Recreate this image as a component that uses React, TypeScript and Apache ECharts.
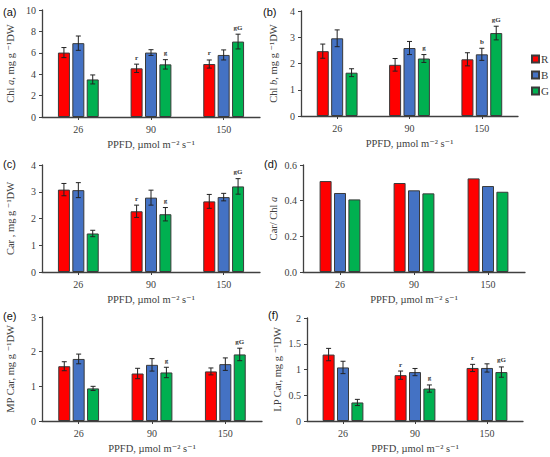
import React, { useEffect, useRef } from "react";
import * as echarts from "echarts";

const categories = ["26", "90", "150"];
const seriesNames = ["R", "B", "G"];
const colors = ["#FF0000", "#4472C4", "#00B050"];

// (a) Chl a
const chlA_R = [6.02, 4.55, 4.95];
const chlA_B = [6.9, 6.02, 5.8];
const chlA_G = [3.51, 4.92, 7.05];
const chlA_Rerr = [0.47, 0.39, 0.38];
const chlA_Berr = [0.67, 0.27, 0.47];
const chlA_Gerr = [0.42, 0.44, 0.69];
const chlA_Rlet = ["", "r", "r"];
const chlA_Blet = ["", "", ""];
const chlA_Glet = ["", "g", "gG"];

// (b) Chl b
const chlB_R = [2.47, 1.95, 2.16];
const chlB_B = [2.96, 2.59, 2.35];
const chlB_G = [1.65, 2.19, 3.16];
const chlB_Rerr = [0.27, 0.24, 0.25];
const chlB_Berr = [0.32, 0.25, 0.23];
const chlB_Gerr = [0.15, 0.15, 0.26];
const chlB_Rlet = ["", "", ""];
const chlB_Blet = ["", "", "b"];
const chlB_Glet = ["", "g", "gG"];

// (c) Car
const car_R = [3.08, 2.27, 2.64];
const car_B = [3.06, 2.78, 2.8];
const car_G = [1.44, 2.16, 3.2];
const car_Rerr = [0.23, 0.23, 0.26];
const car_Berr = [0.28, 0.28, 0.14];
const car_Gerr = [0.12, 0.25, 0.29];
const car_Rlet = ["", "r", ""];
const car_Blet = ["", "", ""];
const car_Glet = ["", "g", "gG"];

// (d) Car / Chl a
const ratio_R = [0.51, 0.499, 0.525];
const ratio_B = [0.443, 0.458, 0.482];
const ratio_G = [0.407, 0.441, 0.45];

// (e) MP Car
const mp_R = [1.58, 1.37, 1.43];
const mp_B = [1.79, 1.62, 1.64];
const mp_G = [0.94, 1.4, 1.92];
const mp_Rerr = [0.13, 0.15, 0.1];
const mp_Berr = [0.14, 0.18, 0.18];
const mp_Gerr = [0.06, 0.15, 0.18];
const mp_Rlet = ["", "", ""];
const mp_Blet = ["", "", ""];
const mp_Glet = ["", "g", "gG"];

// (f) LP Car
const lp_R = [1.29, 0.89, 1.03];
const lp_B = [1.04, 0.95, 1.03];
const lp_G = [0.36, 0.63, 0.95];
const lp_Rerr = [0.12, 0.08, 0.07];
const lp_Berr = [0.12, 0.07, 0.08];
const lp_Gerr = [0.06, 0.07, 0.1];
const lp_Rlet = ["", "r", "r"];
const lp_Blet = ["", "", ""];
const lp_Glet = ["", "g", "gG"];

const SERIF = "'Liberation Serif', 'DejaVu Serif', serif";
const SANS = "'Liberation Sans', Arial, sans-serif";

type Panel = {
  label: string;
  labelPos: [number, number];
  yName: string;
  yNameGap: number;
  max: number;
  interval: number;
  fmt?: (v: number) => string;
  grid: { left: number; top: number; width: number; height: number };
  values: number[][];
  errs?: number[][];
  letters?: string[][];
};

const panels: Panel[] = [
  {
    label: "(a)",
    labelPos: [3, 13],
    yName: "{n|Chl }{i|a}{n|, mg g }{n|⁻¹DW}",
    yNameGap: 26,
    max: 10,
    interval: 2,
    grid: { left: 42, top: 10, width: 218, height: 107 },
    values: [chlA_R, chlA_B, chlA_G],
    errs: [chlA_Rerr, chlA_Berr, chlA_Gerr],
    letters: [chlA_Rlet, chlA_Blet, chlA_Glet],
  },
  {
    label: "(b)",
    labelPos: [263, 13],
    yName: "{n|Chl }{i|b}{n|, mg g }{n|⁻¹DW}",
    yNameGap: 22,
    max: 4,
    interval: 1,
    grid: { left: 301, top: 11, width: 217, height: 105 },
    values: [chlB_R, chlB_B, chlB_G],
    errs: [chlB_Rerr, chlB_Berr, chlB_Gerr],
    letters: [chlB_Rlet, chlB_Blet, chlB_Glet],
  },
  {
    label: "(c)",
    labelPos: [3, 165],
    yName: "{n|Car , mg g }{n|⁻¹DW}",
    yNameGap: 26,
    max: 4,
    interval: 1,
    grid: { left: 42, top: 165, width: 218, height: 107 },
    values: [car_R, car_B, car_G],
    errs: [car_Rerr, car_Berr, car_Gerr],
    letters: [car_Rlet, car_Blet, car_Glet],
  },
  {
    label: "(d)",
    labelPos: [264, 165],
    yName: "{n|Car/ Chl }{i|a}",
    yNameGap: 24,
    max: 0.6,
    interval: 0.2,
    fmt: (v: number) => v.toFixed(1),
    grid: { left: 303, top: 165, width: 222, height: 107 },
    values: [ratio_R, ratio_B, ratio_G],
  },
  {
    label: "(e)",
    labelPos: [3, 317],
    yName: "{n|MP Car, mg g }{n|⁻¹DW}",
    yNameGap: 26,
    max: 3,
    interval: 1,
    grid: { left: 42, top: 317, width: 220, height: 104 },
    values: [mp_R, mp_B, mp_G],
    errs: [mp_Rerr, mp_Berr, mp_Gerr],
    letters: [mp_Rlet, mp_Blet, mp_Glet],
  },
  {
    label: "(f)",
    labelPos: [268, 316],
    yName: "{n|LP Car, mg g }{n|⁻¹DW}",
    yNameGap: 24,
    max: 2,
    interval: 0.5,
    fmt: (v: number) => String(v),
    grid: { left: 307, top: 318, width: 216, height: 103 },
    values: [lp_R, lp_B, lp_G],
    errs: [lp_Rerr, lp_Berr, lp_Gerr],
    letters: [lp_Rlet, lp_Blet, lp_Glet],
  },
];

const BAR_W = 12;
const BAR_GAP = 0.2;

function buildOption() {
  const grids: any[] = [];
  const xAxes: any[] = [];
  const yAxes: any[] = [];
  const series: any[] = [];
  const graphics: any[] = [];

  panels.forEach((p, pi) => {
    grids.push({ ...p.grid, containLabel: false });
    xAxes.push({
      type: "category",
      gridIndex: pi,
      data: categories,
      axisLine: { lineStyle: { color: "#404040", width: 1.3 } },
      axisTick: { show: true, alignWithLabel: true, length: 3, lineStyle: { color: "#404040" } },
      axisLabel: { fontFamily: SERIF, fontSize: 10, color: "#404040", margin: 7 },
      name: "PPFD, µmol m⁻² s⁻¹",
      nameLocation: "middle",
      nameGap: 22,
      nameTextStyle: { fontFamily: SERIF, fontSize: 10.5, color: "#404040" },
    });
    yAxes.push({
      type: "value",
      gridIndex: pi,
      min: 0,
      max: p.max,
      interval: p.interval,
      splitLine: { show: false },
      axisLine: { show: true, lineStyle: { color: "#404040", width: 1.3 } },
      axisTick: { show: true, length: 3, lineStyle: { color: "#404040" } },
      axisLabel: {
        fontFamily: SERIF,
        fontSize: 10,
        color: "#404040",
        margin: 6,
        formatter: p.fmt ? (v: number) => p.fmt!(v) : undefined,
      },
      name: p.yName,
      nameLocation: "middle",
      nameGap: p.yNameGap,
      nameTextStyle: {
        rich: {
          n: { fontFamily: SERIF, fontSize: 10.5, color: "#404040" },
          i: { fontFamily: SERIF, fontSize: 10.5, color: "#404040", fontStyle: "italic" },
        },
      },
    });
    p.values.forEach((vals, si) => {
      series.push({
        type: "bar",
        name: seriesNames[si],
        xAxisIndex: pi,
        yAxisIndex: pi,
        data: vals,
        barWidth: BAR_W,
        barGap: BAR_GAP * 100 + "%",
        itemStyle: { color: colors[si], borderColor: "#3a3a3a", borderWidth: 1 },
      });
    });
    if (p.errs) {
      p.errs.forEach((errs, si) => {
        const vals = p.values[si];
        const lets = p.letters ? p.letters[si] : ["", "", ""];
        series.push({
          type: "custom",
          name: "err" + seriesNames[si] + pi,
          xAxisIndex: pi,
          yAxisIndex: pi,
          z: 5,
          data: vals.map((v, i) => [i, v, errs[i]]),
          renderItem: (params: any, api: any) => {
            const cat = api.value(0);
            const v = api.value(1);
            const e = api.value(2);
            const off = (si - 1) * BAR_W * (1 + BAR_GAP);
            const c = api.coord([cat, v]);
            const x = c[0] + off;
            const top = api.coord([cat, v + e])[1];
            const bot = api.coord([cat, v - e])[1];
            const cap = 2.5;
            const st = { stroke: "#222", lineWidth: 1 };
            const children: any[] = [
              { type: "line", shape: { x1: x, y1: top, x2: x, y2: bot }, style: st },
              { type: "line", shape: { x1: x - cap, y1: top, x2: x + cap, y2: top }, style: st },
              { type: "line", shape: { x1: x - cap, y1: bot, x2: x + cap, y2: bot }, style: st },
            ];
            const t = lets[params.dataIndex];
            if (t) {
              children.push({
                type: "text",
                style: {
                  text: t,
                  x: x,
                  y: top - 3,
                  align: "center",
                  verticalAlign: "bottom",
                  fontSize: 7,
                  fontWeight: "bold",
                  fontFamily: SERIF,
                  fill: "#333",
                },
              });
            }
            return { type: "group", children };
          },
        });
      });
    }
    graphics.push({
      type: "text",
      left: p.labelPos[0],
      top: p.labelPos[1] - 7,
      style: { text: p.label, fontFamily: SANS, fontSize: 11, fill: "#111" },
    });
  });

  return {
    animation: false,
    backgroundColor: "#fff",
    grid: grids,
    xAxis: xAxes,
    yAxis: yAxes,
    series,
    graphic: graphics,
    legend: {
      data: seriesNames,
      orient: "vertical",
      left: 531,
      top: 53,
      padding: 0,
      itemWidth: 7,
      itemHeight: 7,
      itemGap: 4,
      icon: "rect",
      textStyle: {
        fontFamily: SERIF,
        fontSize: 11,
        lineHeight: 12,
        color: "#404040",
        padding: [0, 0, 0, -3],
      },
    },
  };
}

export default function App() {
  const ref = useRef<HTMLDivElement>(null);
  useEffect(() => {
    if (!ref.current) return;
    const chart = echarts.init(ref.current, undefined, { renderer: "svg" });
    chart.setOption(buildOption() as any);
    return () => chart.dispose();
  }, []);
  return (
    <div
      ref={ref}
      style={{ position: "fixed", left: 0, top: 0, width: 550, height: 457, background: "#fff" }}
    />
  );
}
